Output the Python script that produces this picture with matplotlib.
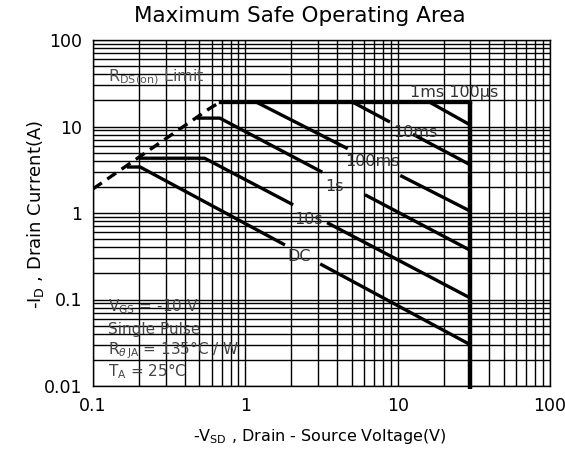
import numpy as np
import matplotlib
matplotlib.use("Agg")
import matplotlib.pyplot as plt

# Operating limits (V in volts, I in amps)
v_max = 30.0
i_max = 19.0

# R_DS(on) limit (dashed)
rds_v = [0.1, 0.59, 0.68]
rds_i = [1.9, 16.4, 19.0]

# Pulse-width curves: corner points along each boundary
curve_names = ["1ms", "10ms", "100ms", "1s", "10s", "DC"]
curve_v = {
    "1ms":   [16.3, 30.0],
    "10ms":  [5.1, 30.0],
    "100ms": [1.19, 30.0],
    "1s":    [0.48, 0.68, 30.0],
    "10s":   [0.20, 0.54, 30.0],
    "DC":    [0.167, 0.204, 30.0],
}
curve_i = {
    "1ms":   [19.0, 10.4],
    "10ms":  [19.0, 3.6],
    "100ms": [19.0, 1.05],
    "1s":    [12.5, 12.5, 0.37],
    "10s":   [4.3, 4.3, 0.104],
    "DC":    [3.4, 3.4, 0.030],
}
# Voltage span left open for each label
label_gap = {
    "10ms":  (8.9, 12.6),
    "100ms": (4.7, 10.4),
    "1s":    (3.2, 6.1),
    "10s":   (2.06, 3.44),
    "DC":    (1.82, 3.1),
}
# Label anchor positions (left edge, vertical centre)
label_text = {
    "1ms": "1ms 100\u00b5s",
    "10ms": "10ms",
    "100ms": "100ms",
    "1s": "1s",
    "10s": "10s",
    "DC": "DC",
}
label_v = {"1ms": 12.1, "10ms": 9.4, "100ms": 4.5, "1s": 3.33, "10s": 2.1, "DC": 1.9}
label_i = {"1ms": 25.0, "10ms": 8.6, "100ms": 3.9, "1s": 2.0, "10s": 0.83, "DC": 0.31}

x_ticks = [0.1, 1, 10, 100]
x_ticklabels = ["0.1", "1", "10", "100"]
y_ticks = [0.01, 0.1, 1, 10, 100]
y_ticklabels = ["0.01", "0.1", "1", "10", "100"]

plt.rcParams["font.family"] = ["DejaVu Sans"]
fig = plt.figure(figsize=(5.65, 4.53), dpi=100)
ax = fig.add_axes([93 / 565, 1 - 386 / 453, 457 / 565, 346 / 453])
ax.set_xscale("log")
ax.set_yscale("log")
ax.set_xlim(0.1, 100)
ax.set_ylim(0.01, 100)

ax.grid(True, which="both", color="black", linewidth=1.0)
ax.set_axisbelow(True)
for s in ax.spines.values():
    s.set_linewidth(1.0)

ax.set_xticks(x_ticks)
ax.set_xticklabels(x_ticklabels)
ax.set_yticks(y_ticks)
ax.set_yticklabels(y_ticklabels)
ax.tick_params(which="both", length=0, labelsize=12.5, pad=8)
ax.xaxis.set_minor_formatter(matplotlib.ticker.NullFormatter())
ax.yaxis.set_minor_formatter(matplotlib.ticker.NullFormatter())

lw = 2.4

def split_at(vs, is_, v):
    """Current at voltage v along the piecewise power-law boundary."""
    lv = np.log10(vs)
    li = np.log10(is_)
    return 10 ** np.interp(np.log10(v), lv, li)

# R_DS(on) limit
ax.plot(rds_v, rds_i, color="black", lw=lw, ls=(0, (3.2, 2.0)), solid_capstyle="butt")
# Current limit (100 us) and voltage limit
ax.plot([rds_v[-1], v_max], [i_max, i_max], color="black", lw=lw, solid_joinstyle="miter")
ax.plot([v_max, v_max], [i_max, 0.0093], color="black", lw=3.2, clip_on=False,
        solid_capstyle="butt")

for name in curve_names:
    vs = np.array(curve_v[name])
    is_ = np.array(curve_i[name])
    if name in label_gap:
        g0, g1 = label_gap[name]
        left = vs < g0
        right = vs > g1
        v1 = np.concatenate([vs[left], [g0]])
        i1 = np.concatenate([is_[left], [split_at(vs, is_, g0)]])
        v2 = np.concatenate([[g1], vs[right]])
        i2 = np.concatenate([[split_at(vs, is_, g1)], is_[right]])
        ax.plot(v1, i1, color="black", lw=lw, solid_capstyle="butt")
        ax.plot(v2, i2, color="black", lw=lw, solid_capstyle="butt")
    else:
        ax.plot(vs, is_, color="black", lw=lw, solid_capstyle="butt")
    ax.text(label_v[name], label_i[name], label_text[name], fontsize=11.5,
            color="#333333", ha="left", va="center")

ax.text(0.125, 37, r"R$_{\mathrm{DS(on)}}$ Limit", fontsize=11.5, color="#555555",
        ha="left", va="center")

info = [r"V$_{\mathrm{GS}}$ = -10 V", "Single Pulse",
        r"R$_{\theta\,\mathrm{JA}}$ = 135°C / W", r"T$_{\mathrm{A}}$ = 25°C"]
info_y = [0.082, 0.0450, 0.0262, 0.0150]
for t, y in zip(info, info_y):
    ax.text(0.125, y, t, fontsize=11, color="#444444", ha="left", va="center")

fig.text(300 / 565, 1 - 16 / 453, "Maximum Safe Operating Area", fontsize=15.5,
         ha="center", va="center")
fig.text(320 / 565, 1 - 437 / 453, r"-V$_{\mathrm{SD}}$ , Drain - Source Voltage(V)",
         fontsize=11.5, ha="center", va="center")
fig.text(36 / 565, 1 - 215 / 453, r"-I$_{\mathrm{D}}$ , Drain Current(A)",
         fontsize=13, ha="center", va="center", rotation=90)

fig.savefig("out.png", dpi=100, facecolor="white")
